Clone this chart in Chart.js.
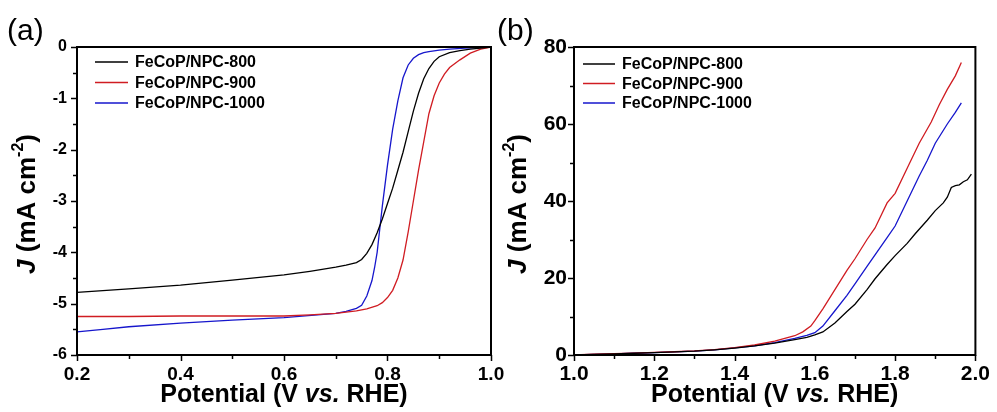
<!DOCTYPE html>
<html><head><meta charset="utf-8">
<script src="https://cdn.jsdelivr.net/npm/chart.js@4/dist/chart.umd.min.js"></script>
<style>
html,body{margin:0;padding:0;background:#fff;width:997px;height:412px;overflow:hidden}
canvas{position:absolute;top:0}
</style></head><body>
<canvas id="ca" width="520" height="412" style="left:0;width:520px;height:412px"></canvas>
<canvas id="cb" width="500" height="412" style="left:497px;width:500px;height:412px"></canvas>
<script>
// ---------- data ----------
const seriesNames = ['FeCoP/NPC-800', 'FeCoP/NPC-900', 'FeCoP/NPC-1000'];
const seriesColors = ['#000000', '#d01c22', '#1616cc'];

// (a) ORR LSV
const a800V = [0.20,0.30,0.40,0.50,0.60,0.65,0.70,0.72,0.74,0.75,0.76,0.77,0.78,0.79,0.80,0.81,0.82,0.83,0.84,0.85,0.86,0.87,0.88,0.89,0.90,0.92,0.94,0.96,0.98,1.00];
const a800J = [-4.78,-4.71,-4.64,-4.54,-4.44,-4.37,-4.29,-4.25,-4.20,-4.14,-4.02,-3.85,-3.62,-3.35,-3.05,-2.75,-2.40,-2.05,-1.65,-1.25,-0.90,-0.62,-0.42,-0.28,-0.19,-0.11,-0.07,-0.04,-0.02,0];
const a900V = [0.20,0.30,0.40,0.50,0.60,0.65,0.70,0.74,0.76,0.78,0.79,0.80,0.81,0.82,0.83,0.84,0.85,0.86,0.87,0.88,0.89,0.90,0.91,0.92,0.94,0.96,0.98,1.00];
const a900J = [-5.25,-5.25,-5.24,-5.24,-5.24,-5.22,-5.19,-5.14,-5.10,-5.04,-4.98,-4.88,-4.74,-4.50,-4.15,-3.60,-3.00,-2.40,-1.85,-1.30,-0.95,-0.70,-0.53,-0.40,-0.25,-0.12,-0.04,0];
const a1000V = [0.20,0.25,0.30,0.40,0.50,0.60,0.70,0.72,0.74,0.75,0.76,0.77,0.775,0.78,0.785,0.79,0.80,0.81,0.82,0.83,0.84,0.85,0.86,0.87,0.88,0.90,0.92,0.95,1.00];
const a1000J = [-5.55,-5.50,-5.45,-5.38,-5.32,-5.27,-5.19,-5.15,-5.09,-5.03,-4.85,-4.55,-4.30,-4.00,-3.55,-3.10,-2.30,-1.60,-1.05,-0.60,-0.35,-0.22,-0.15,-0.11,-0.09,-0.06,-0.04,-0.02,0];

// (b) OER LSV
const b800V = [1.00,1.05,1.10,1.15,1.20,1.25,1.30,1.35,1.40,1.45,1.50,1.55,1.58,1.60,1.62,1.65,1.68,1.70,1.73,1.75,1.78,1.80,1.83,1.85,1.88,1.90,1.92,1.93,1.94,1.95,1.96,1.97,1.98,1.99];
const b800J = [0.0,0.15,0.3,0.45,0.6,0.8,1.0,1.35,1.8,2.35,3.1,4.0,4.6,5.2,6.0,8.3,11.3,13.2,17.0,19.8,23.5,25.8,29.0,31.5,35.0,37.5,39.5,41.0,43.5,44.0,44.2,45.0,45.5,47.0];
const b900V = [1.00,1.05,1.10,1.15,1.20,1.25,1.30,1.35,1.40,1.45,1.50,1.55,1.57,1.59,1.60,1.62,1.65,1.68,1.70,1.73,1.75,1.78,1.80,1.83,1.86,1.89,1.91,1.93,1.95,1.965];
const b900J = [0.0,0.2,0.35,0.5,0.7,0.85,1.05,1.4,1.9,2.6,3.6,5.0,6.0,7.5,8.9,12.0,17.0,22.0,25.0,30.0,33.0,39.5,42.0,48.5,55.0,60.5,65.0,69.0,72.5,76.0];
const b1000V = [1.00,1.05,1.10,1.15,1.20,1.25,1.30,1.35,1.40,1.45,1.50,1.55,1.58,1.60,1.62,1.65,1.68,1.70,1.73,1.75,1.78,1.80,1.83,1.86,1.88,1.90,1.93,1.95,1.965];
const b1000J = [0.0,0.15,0.3,0.45,0.6,0.8,1.0,1.35,1.85,2.4,3.2,4.3,5.1,5.8,7.5,11.5,15.5,18.5,23.0,26.0,30.5,33.5,40.0,46.5,50.5,55.0,60.0,63.0,65.5];

const FONT = '"Liberation Sans", Arial, sans-serif';

function pts(xs, ys){ return xs.map((x,i)=>({x:x, y:ys[i]})); }
function makeSets(list){
  return list.map((d,i)=>({label:seriesNames[i], data:pts(d[0],d[1]), borderColor:seriesColors[i],
    borderWidth:1.3, pointRadius:0, showLine:true, fill:false, tension:0}));
}

function panelPlugin(cfg){
  return {id:'panel', afterDraw(chart){
    const ctx = chart.ctx, a = chart.chartArea, xs = chart.scales.x, ys = chart.scales.y;
    ctx.save();
    ctx.strokeStyle = '#000';
    // ticks (outward)
    ctx.lineWidth = 1.5;
    ctx.beginPath();
    for (let v = xs.min; v <= xs.max + 1e-9; v += cfg.xStep/2) {
      const p = Math.round(xs.getPixelForValue(v)) + 0.5;
      const major = Math.abs(Math.round((v - xs.min)/cfg.xStep)*cfg.xStep - (v - xs.min)) < 1e-6;
      ctx.moveTo(p, a.bottom); ctx.lineTo(p, a.bottom + (major ? 6 : 4));
    }
    for (let v = ys.min; v <= ys.max + 1e-9; v += cfg.yStep/2) {
      const p = Math.round(ys.getPixelForValue(v)) + 0.5;
      const major = Math.abs(Math.round((v - ys.min)/cfg.yStep)*cfg.yStep - (v - ys.min)) < 1e-6;
      ctx.moveTo(a.left, p); ctx.lineTo(a.left - (major ? 6 : 4), p);
    }
    ctx.stroke();
    // frame
    ctx.lineWidth = 2;
    ctx.strokeRect(a.left, a.top, a.right - a.left, a.bottom - a.top);
    // legend
    ctx.textBaseline = 'middle';
    ctx.textAlign = 'left';
    ctx.font = 'bold ' + cfg.legFont + 'px ' + FONT;
    chart.data.datasets.forEach((ds, i) => {
      const y = a.top + cfg.legTop + i*cfg.legGap;
      ctx.strokeStyle = ds.borderColor; ctx.lineWidth = 1.5;
      ctx.beginPath(); ctx.moveTo(a.left + cfg.legX0, y); ctx.lineTo(a.left + cfg.legX1, y); ctx.stroke();
      ctx.fillStyle = '#000';
      ctx.fillText(ds.label, a.left + cfg.legTx, y + 1);
    });
    // x title: Potential (V vs. RHE)
    const tf = cfg.titleFont;
    const parts = [['Potential (V ', 'bold'], ['vs.', 'italic bold'], [' RHE)', 'bold']];
    let total = 0;
    parts.forEach(p => { ctx.font = p[1] + ' ' + tf + 'px ' + FONT; total += ctx.measureText(p[0]).width; });
    let x = (a.left + a.right)/2 - total/2;
    ctx.fillStyle = '#000';
    ctx.textBaseline = 'middle';
    parts.forEach(p => { ctx.font = p[1] + ' ' + tf + 'px ' + FONT; ctx.fillText(p[0], x, cfg.xTitleY); x += ctx.measureText(p[0]).width; });
    // y title: J (mA cm-2)
    const yf = cfg.yTitleFont;
    ctx.save();
    ctx.translate(cfg.yTitleX, (a.top + a.bottom)/2 + cfg.yTitleDy);
    ctx.rotate(-Math.PI/2);
    const yp = [['J', 'italic bold', yf, 0], [' (mA cm', 'bold', yf, 0], ['-2', 'bold', Math.round(yf*0.62), -yf*0.38], [')', 'bold', yf, 0]];
    total = 0;
    yp.forEach(p => { ctx.font = p[1] + ' ' + p[2] + 'px ' + FONT; total += ctx.measureText(p[0]).width; });
    x = -total/2;
    yp.forEach(p => { ctx.font = p[1] + ' ' + p[2] + 'px ' + FONT; ctx.fillText(p[0], x, p[3]); x += ctx.measureText(p[0]).width; });
    ctx.restore();
    // panel label
    ctx.font = cfg.labFont + 'px ' + FONT;
    ctx.textBaseline = 'alphabetic';
    ctx.fillText(cfg.label, cfg.labX, cfg.labY);
    ctx.restore();
  }};
}

function makeChart(id, sets, sc, cfg){
  return new Chart(document.getElementById(id), {
    type: 'scatter',
    data: { datasets: sets },
    options: {
      responsive: false, animation: false, events: [],
      layout: { padding: cfg.pad },
      plugins: { legend: {display:false}, tooltip: {enabled:false} },
      scales: {
        x: { type:'linear', min: sc.xmin, max: sc.xmax,
             ticks: { stepSize: cfg.xStep, color:'#000', padding: cfg.xTickPad, maxRotation:0, autoSkip:false,
                      font: {family: FONT, weight:'bold', size: cfg.xTickFont},
                      callback: v => v.toFixed(1) },
             grid: { display:false, drawTicks:false }, border: {display:false},
             afterFit: s => { s.height = cfg.xAxisH; } },
        y: { type:'linear', min: sc.ymin, max: sc.ymax,
             ticks: { stepSize: cfg.yStep, color:'#000', padding: cfg.yTickPad, autoSkip:false,
                      font: {family: FONT, weight:'bold', size: cfg.yTickFont},
                      callback: v => String(Math.round(v)) },
             grid: { display:false, drawTicks:false }, border: {display:false},
             afterFit: s => { s.width = cfg.yAxisW; } }
      }
    },
    plugins: [panelPlugin(cfg)]
  });
}

const cfgA = { pad:{left:0, top:47, right:29, bottom:0}, xAxisH:57, yAxisW:77, xStep:0.2, yStep:1,
  xTickFont:19, yTickFont:16, xTickPad:8, yTickPad:10, legFont:16, legTop:15, legGap:20.5, legX0:18, legX1:51, legTx:58,
  titleFont:25, yTitleFont:26, xTitleY:395, yTitleX:28, yTitleDy:3, label:'(a)', labFont:30, labX:7, labY:40 };
const cfgB = { pad:{left:0, top:47, right:15, bottom:0}, xAxisH:57, yAxisW:77, xStep:0.2, yStep:20,
  xTickFont:21, yTickFont:21, xTickPad:7, yTickPad:7, legFont:16, legTop:17, legGap:19.5, legX0:9, legX1:41, legTx:48,
  titleFont:25, yTitleFont:26, xTitleY:395, yTitleX:22, yTitleDy:3, label:'(b)', labFont:30, labX:0, labY:40 };

makeChart('ca', makeSets([[a800V,a800J],[a900V,a900J],[a1000V,a1000J]]), {xmin:0.2,xmax:1.0,ymin:-6,ymax:0}, cfgA);
makeChart('cb', makeSets([[b800V,b800J],[b900V,b900J],[b1000V,b1000J]]), {xmin:1.0,xmax:2.0,ymin:0,ymax:80}, cfgB);
</script>
</body></html>
